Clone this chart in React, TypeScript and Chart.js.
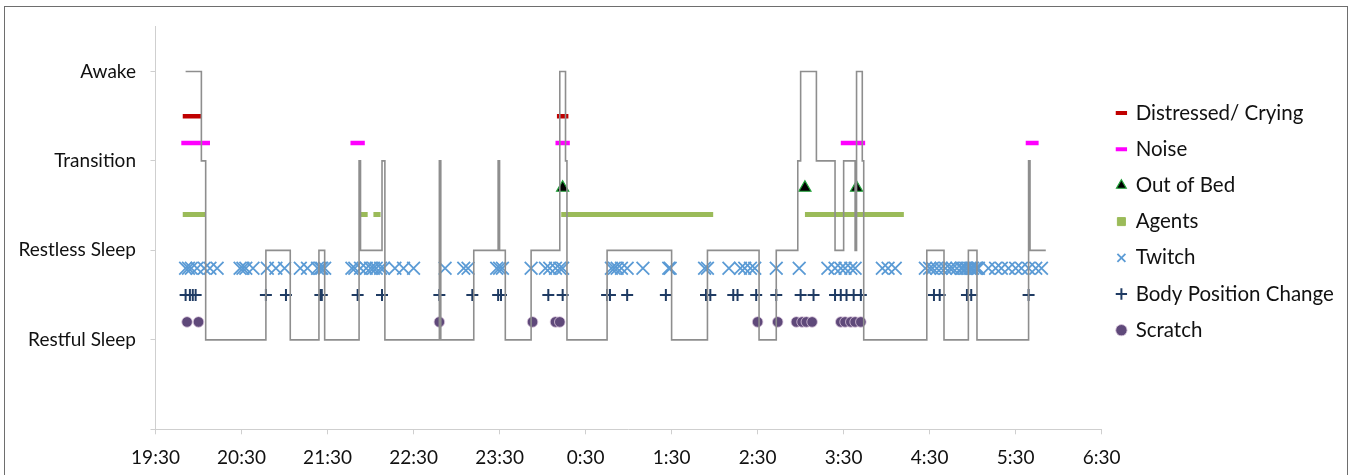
import React, { useEffect, useRef } from "react";
import { Chart, registerables } from "chart.js";

Chart.register(...registerables);

// ---------- data ----------
const xTickLabels = ["19:30", "20:30", "21:30", "22:30", "23:30", "0:30", "1:30", "2:30", "3:30", "4:30", "5:30", "6:30"];
const yTickValues = [0, 1, 2, 3, 4];
const yLevelLabels = ["", "Restful Sleep", "Restless Sleep", "Transition", "Awake"];

// sleep state (step line): time the state starts, and its level
const stateTimes = ["19:51", "20:02", "20:05", "20:47", "21:04", "21:24", "21:28", "21:52", "21:53", "22:08", "22:10", "22:48", "22:49", "23:12", "23:29", "23:30", "23:34", "23:52", "0:12", "0:16", "0:17", "0:45", "1:30", "1:55", "2:31", "2:43", "2:58", "3:00", "3:11", "3:24", "3:30", "3:38", "3:39", "3:43", "3:44", "4:28", "4:40", "4:57", "5:03", "5:39", "5:40", "5:51"];
const stateLevels = [4, 3, 1, 2, 1, 2, 1, 3, 2, 3, 1, 3, 1, 2, 3, 2, 1, 2, 4, 3, 1, 2, 1, 2, 1, 2, 3, 4, 3, 2, 3, 2, 4, 3, 1, 2, 1, 2, 1, 3, 2, 2];

// row (y value) of each event series
const distressedRow = 3.5;
const noiseRow = 3.2;
const outOfBedRow = 2.7;
const agentsRow = 2.4;
const twitchRow = 1.8;
const bodyRow = 1.5;
const scratchRow = 1.2;

const distressedStarts = ["19:49", "0:10"];
const distressedEnds = ["20:02", "0:18"];
const noiseStarts = ["19:48", "21:46", "0:09", "3:28", "5:37"];
const noiseEnds = ["20:08", "21:56", "0:19", "3:45", "5:46"];
const agentsStarts = ["19:49", "21:53", "22:02", "0:13", "3:03"];
const agentsEnds = ["20:05", "21:58", "22:07", "1:59", "4:12"];
const outOfBedTimes = ["0:14", "3:03", "3:39"];
const twitchTimes = ["19:51", "19:53", "19:55", "19:59", "20:04", "20:08", "20:13", "20:29", "20:31", "20:33", "20:38", "20:48", "20:54", "21:00", "21:11", "21:16", "21:23", "21:25", "21:26", "21:28", "21:47", "21:49", "21:53", "21:57", "22:00", "22:02", "22:04", "22:07", "22:09", "22:17", "22:23", "22:30", "22:52", "23:05", "23:08", "23:28", "23:30", "23:32", "23:52", "0:02", "0:05", "0:09", "0:12", "0:14", "0:48", "0:50", "0:52", "0:55", "0:59", "1:10", "1:28", "1:29", "1:53", "1:55", "2:10", "2:18", "2:21", "2:25", "2:28", "2:43", "2:59", "3:19", "3:24", "3:28", "3:31", "3:35", "3:38", "3:57", "4:01", "4:06", "4:27", "4:30", "4:32", "4:35", "4:38", "4:41", "4:44", "4:46", "4:49", "4:52", "4:53", "4:55", "4:56", "4:58", "4:59", "5:00", "5:02", "5:03", "5:04", "5:11", "5:16", "5:20", "5:25", "5:30", "5:34", "5:39", "5:44", "5:48"];
const bodyTimes = ["19:51", "19:54", "19:56", "19:58", "20:47", "21:01", "21:25", "21:26", "21:51", "22:08", "22:48", "23:11", "23:29", "23:31", "0:04", "0:14", "0:45", "0:47", "0:59", "1:26", "1:54", "1:57", "2:13", "2:16", "2:29", "2:43", "3:00", "3:09", "3:24", "3:28", "3:32", "3:37", "3:42", "4:33", "4:37", "4:56", "4:59", "5:39"];
const scratchTimes = ["19:52", "20:00", "22:48", "23:53", "0:09", "0:12", "2:30", "2:44", "2:57", "3:01", "3:04", "3:08", "3:28", "3:31", "3:35", "3:38", "3:42"];

// ---------- helpers ----------
const toHours = (t: string) => {
  const [h, m] = t.split(":").map(Number);
  return (h < 12 ? h + 24 : h) + m / 60;
};
const xTickValues = xTickLabels.map(toHours);
const points = (times: string[], y: number) => times.map((t) => ({ x: toHours(t), y }));
const segments = (starts: string[], ends: string[], y: number) =>
  starts.flatMap((s, i) => [
    { x: toHours(s), y },
    { x: toHours(ends[i]), y },
    { x: toHours(ends[i]), y: null as any },
  ]);

// ---------- layout constants ----------
const W = 1352;
const H = 475;
const CH = 500; // canvas height (clipped by the page container)
const AREA_LEFT = 155.5;
const AREA_RIGHT = 1101.7;
const AREA_TOP = 26.7;
const AREA_BOTTOM = 429.3;
const FONT = "Lato";
const AXIS_FONT = 19;
const AXIS_LH = 1.2;
const LEGEND_FONT = 20.5;
const LEGEND_PAD = 15.7;
const LEGEND_BOX = 8;
const LEGEND_FIRST_Y = 113;
const TICK_LEN = 5;
const Y_TICK_PAD = 14.5;
const X_TICK_PAD = 12;

function measure(text: string, size: number) {
  const c = document.createElement("canvas").getContext("2d")!;
  c.font = `${size}px ${FONT}`;
  return c.measureText(text).width;
}

export default function App() {
  const ref = useRef<HTMLCanvasElement>(null);

  useEffect(() => {
    if (!ref.current) return;
    const widestY = Math.max(...yLevelLabels.map((l) => measure(l, AXIS_FONT)));
    const widestLegend = measure("Body Position Change", LEGEND_FONT);
    const padLeft = AREA_LEFT - (TICK_LEN + widestY + 2 * Y_TICK_PAD);
    const legendWidth = LEGEND_PAD + LEGEND_BOX + LEGEND_FONT / 2 + widestLegend + 10;
    const padRight = W - AREA_RIGHT - legendWidth;
    const padBottom = CH - AREA_BOTTOM - (TICK_LEN + AXIS_FONT * AXIS_LH + 2 * X_TICK_PAD);

    const legendPlace = {
      id: "legendPlace",
      afterLayout(chart: any) {
        const l = chart.legend;
        if (!l) return;
        const n = chart.data.datasets.length - 1;
        const colH = n * (LEGEND_FONT + LEGEND_PAD);
        const top = AREA_TOP;
        const bottom = 2 * (LEGEND_FIRST_Y - LEGEND_FONT / 2) + colH - LEGEND_PAD - top;
        l.top = top;
        l.bottom = bottom;
        l.height = bottom - top;
      },
    };

    const segStyle = (color: string, width: number, style: string) => ({
      type: "line" as const,
      borderColor: color,
      backgroundColor: color,
      borderWidth: width,
      borderCapStyle: "butt" as const,
      pointRadius: 0,
      pointHoverRadius: 0,
      pointStyle: style,
      pointBackgroundColor: color,
      pointBorderColor: color,
      pointBorderWidth: style === "line" ? 4 : 1,
      spanGaps: false,
      fill: false,
    });

    const chart = new Chart(ref.current, {
      type: "line",
      data: {
        datasets: [
          {
            label: "Sleep State",
            data: stateTimes.map((t, i) => ({ x: toHours(t), y: stateLevels[i] })),
            stepped: true,
            borderColor: "#8e8e8e",
            borderWidth: 1.6,
            pointRadius: 0,
            fill: false,
          },
          { label: "Distressed/ Crying", data: segments(distressedStarts, distressedEnds, distressedRow), ...segStyle("#c00000", 4.5, "line") },
          { label: "Noise", data: segments(noiseStarts, noiseEnds, noiseRow), ...segStyle("#ff00ff", 4.5, "line") },
          {
            label: "Out of Bed",
            data: points(outOfBedTimes, outOfBedRow),
            showLine: false,
            pointStyle: "triangle",
            pointRadius: 7,
            pointBackgroundColor: "#000000",
            pointBorderColor: "#22a33a",
            pointBorderWidth: 1.2,
            borderColor: "#22a33a",
            backgroundColor: "#000000",
          },
          { label: "Agents", data: segments(agentsStarts, agentsEnds, agentsRow), ...segStyle("#9bbb59", 5, "rect") },
          {
            label: "Twitch",
            data: points(twitchTimes, twitchRow),
            showLine: false,
            pointStyle: "crossRot",
            pointRadius: 9,
            pointBorderColor: "#5b9bd5",
            pointBackgroundColor: "#5b9bd5",
            pointBorderWidth: 1.8,
            borderColor: "#5b9bd5",
            backgroundColor: "#5b9bd5",
          },
          {
            label: "Body Position Change",
            data: points(bodyTimes, bodyRow),
            showLine: false,
            pointStyle: "cross",
            pointRadius: 6,
            pointBorderColor: "#1f3b63",
            pointBackgroundColor: "#1f3b63",
            pointBorderWidth: 2,
            borderColor: "#1f3b63",
            backgroundColor: "#1f3b63",
          },
          {
            label: "Scratch",
            data: points(scratchTimes, scratchRow),
            showLine: false,
            pointStyle: "circle",
            pointRadius: 5.3,
            pointBackgroundColor: "#5f497a",
            pointBorderColor: "#d9c6dc",
            pointBorderWidth: 0.8,
            borderColor: "#5f497a",
            backgroundColor: "#5f497a",
          },
        ] as any,
      },
      options: {
        responsive: false,
        animation: false,
        events: [],
        layout: { padding: { left: padLeft, right: padRight, top: AREA_TOP, bottom: padBottom } },
        plugins: {
          tooltip: { enabled: false },
          legend: {
            position: "right",
            align: "center",
            labels: {
              usePointStyle: true,
              boxWidth: LEGEND_BOX,
              boxHeight: LEGEND_BOX,
              padding: LEGEND_PAD,
              color: "#111111",
              font: { family: FONT, size: LEGEND_FONT },
              filter: (item: any) => item.text !== "Sleep State",
            },
          },
        },
        scales: {
          x: {
            type: "linear",
            min: xTickValues[0],
            max: xTickValues[xTickValues.length - 1],
            afterBuildTicks: (s: any) => {
              s.ticks = xTickValues.map((v) => ({ value: v }));
            },
            ticks: {
              autoSkip: false,
              maxRotation: 0,
              padding: X_TICK_PAD,
              color: "#111111",
              font: { family: FONT, size: AXIS_FONT, lineHeight: AXIS_LH },
              callback: (_v: any, i: number) => xTickLabels[i],
            },
            grid: { drawOnChartArea: false, drawTicks: true, tickLength: TICK_LEN, color: "#cfcfcf" },
            border: { display: true, color: "#cfcfcf", width: 1 },
          },
          y: {
            type: "linear",
            min: 0,
            max: 4.5,
            afterBuildTicks: (s: any) => {
              s.ticks = yTickValues.map((v) => ({ value: v }));
            },
            ticks: {
              padding: Y_TICK_PAD,
              color: "#111111",
              font: { family: FONT, size: AXIS_FONT, lineHeight: AXIS_LH },
              callback: (v: any) => yLevelLabels[v] ?? "",
            },
            grid: { drawOnChartArea: false, drawTicks: true, tickLength: TICK_LEN, color: "#cfcfcf" },
            border: { display: true, color: "#cfcfcf", width: 1 },
          },
        },
      } as any,
      plugins: [legendPlace],
    });
    return () => chart.destroy();
  }, []);

  return (
    <div style={{ position: "absolute", left: 0, top: 0, width: W, height: H, background: "#ffffff", overflow: "hidden" }}>
      <canvas ref={ref} width={W} height={CH} style={{ position: "absolute", left: 0, top: 0 }} />
      <div
        style={{
          position: "absolute",
          left: 4,
          top: 6,
          width: 1344,
          height: 490,
          border: "1.5px solid #6e6e6e",
          boxSizing: "border-box",
          pointerEvents: "none",
        }}
      />
    </div>
  );
}
